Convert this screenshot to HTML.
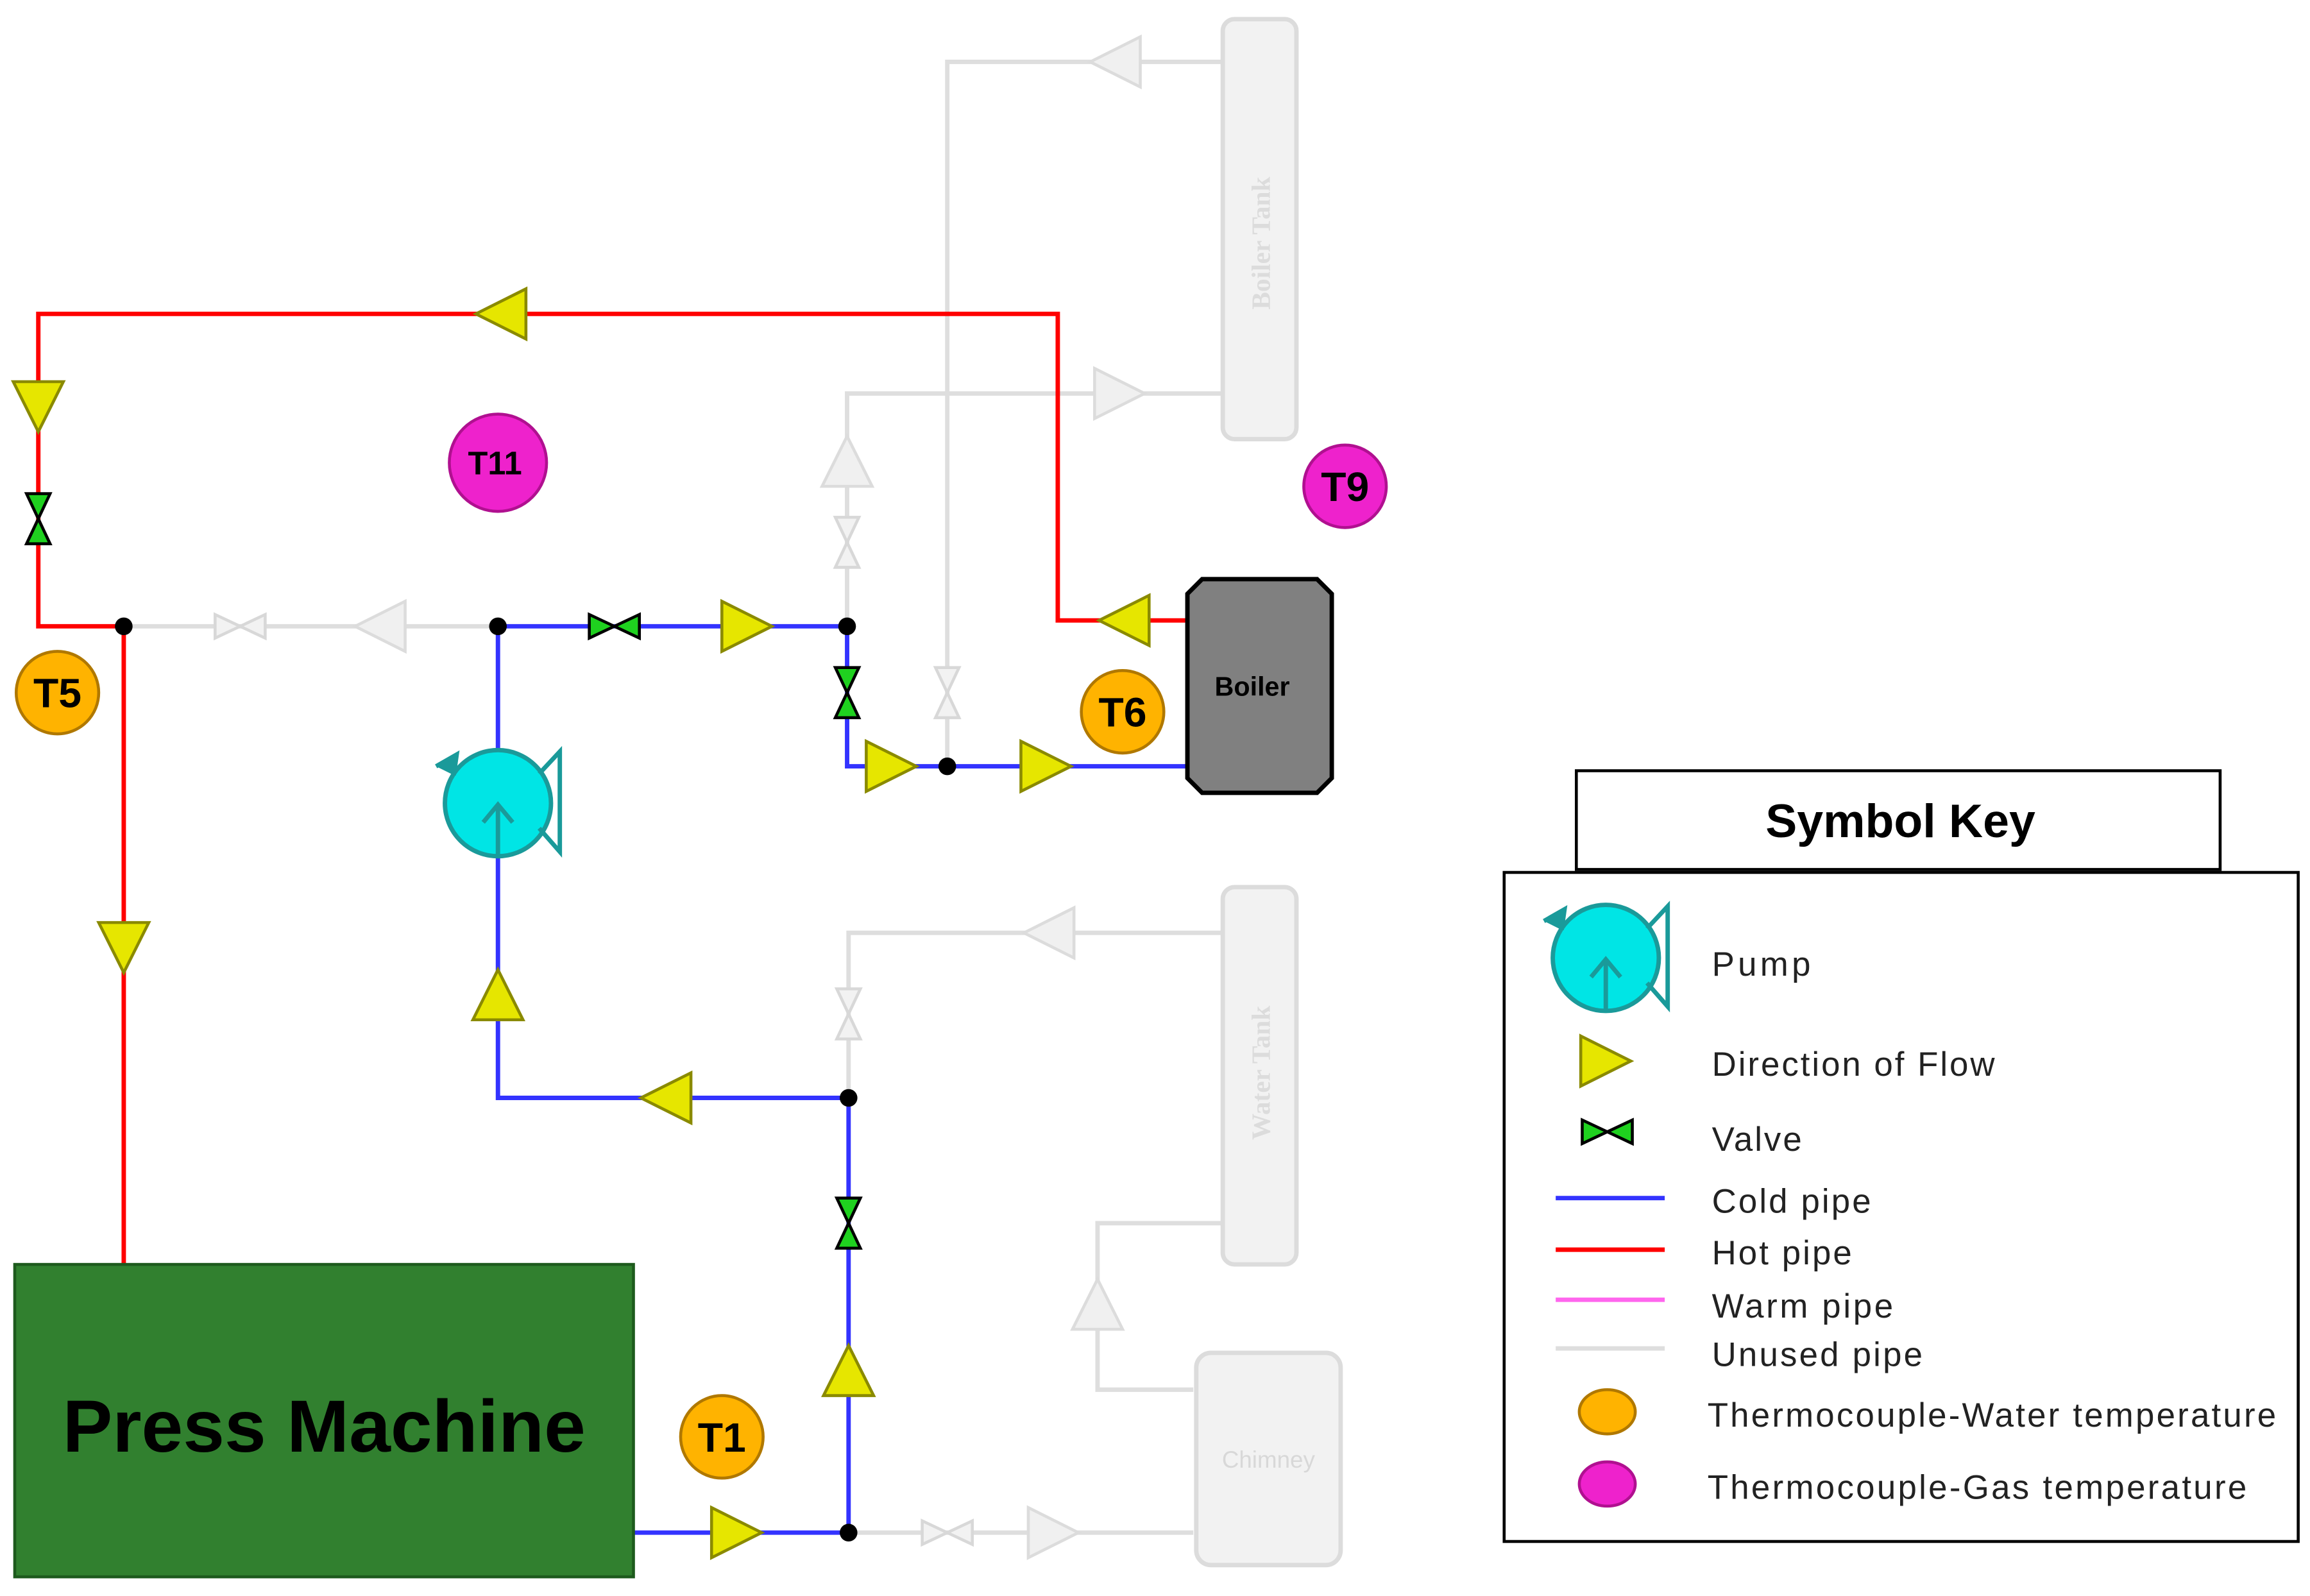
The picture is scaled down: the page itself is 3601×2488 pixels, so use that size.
<!DOCTYPE html>
<html><head><meta charset="utf-8"><style>html,body{margin:0;padding:0;background:#fff}svg{display:block}</style></head>
<body>
<svg width="3601" height="2488" viewBox="0 0 1568 1083" preserveAspectRatio="none" xmlns="http://www.w3.org/2000/svg" font-family="Liberation Sans, sans-serif">
<defs>
<g id="ar"><polygon points="-17,-17 17,0 -17,17" fill="#e6e600" stroke="#8a8a00" stroke-width="2"/></g>
<g id="arg"><polygon points="-17,-17 17,0 -17,17" fill="#f0f0f0" stroke="#dcdcdc" stroke-width="2"/></g>
<g id="vv"><polygon points="-8,-17 8,-17 -8,17 8,17" fill="#1fd11f" stroke="#000" stroke-width="2"/></g>
<g id="vg"><polygon points="-8,-17 8,-17 -8,17 8,17" fill="#f2f2f2" stroke="#d8d8d8" stroke-width="2"/></g>
</defs>
<g fill="none" stroke-width="3">
<g stroke="#dedede">
<path d="M84 425H338"/>
<path d="M576 1040H810"/>
<path d="M643 520V42H830"/>
<path d="M575 425V267H830"/>
<path d="M576 745V633H830"/>
<path d="M810 943H745V830H830"/>
</g>
<path stroke="#ff0000" d="M84 425H26V213H718V421H808"/>
<path stroke="#ff0000" d="M84 425V858"/>
<g stroke="#3333ff">
<path d="M338 425H575V520H808"/>
<path d="M338 425V745H576V1040H430"/>
</g>
</g>
<use href="#vg" transform="translate(163,425) rotate(90)"/>
<use href="#arg" transform="translate(258,425) rotate(180)"/>
<use href="#vg" transform="translate(643,1040) rotate(90)"/>
<use href="#arg" transform="translate(715,1040)"/>
<use href="#arg" transform="translate(757,42) rotate(180)"/>
<use href="#vg" transform="translate(643,470)"/>
<use href="#arg" transform="translate(760,267)"/>
<use href="#arg" transform="translate(575,313) rotate(-90)"/>
<use href="#vg" transform="translate(575,368)"/>
<use href="#arg" transform="translate(712,633) rotate(180)"/>
<use href="#vg" transform="translate(576,688)"/>
<use href="#arg" transform="translate(745,885) rotate(-90)"/>
<rect x="830" y="13" width="50" height="285" rx="8" fill="#f2f2f2" stroke="#dcdcdc" stroke-width="3"/>
<text transform="translate(862,165) rotate(-90)" text-anchor="middle" font-size="18" font-weight="bold" fill="#dcdcdc" font-family="Liberation Serif, serif">Boiler Tank</text>
<rect x="830" y="602" width="50" height="256" rx="8" fill="#f2f2f2" stroke="#dcdcdc" stroke-width="3"/>
<text transform="translate(862,728) rotate(-90)" text-anchor="middle" font-size="18" font-weight="bold" fill="#dcdcdc" font-family="Liberation Serif, serif">Water Tank</text>
<rect x="812" y="918" width="98" height="144" rx="10" fill="#f2f2f2" stroke="#dcdcdc" stroke-width="3"/>
<text x="861" y="996" text-anchor="middle" font-size="16" fill="#d8d8d8">Chimney</text>
<use href="#ar" transform="translate(340,213) rotate(180)"/>
<use href="#ar" transform="translate(26,276) rotate(90)"/>
<use href="#vv" transform="translate(26,352)"/>
<use href="#ar" transform="translate(84,643) rotate(90)"/>
<use href="#ar" transform="translate(763,421) rotate(180)"/>
<use href="#vv" transform="translate(417,425) rotate(90)"/>
<use href="#ar" transform="translate(507,425)"/>
<use href="#vv" transform="translate(575,470)"/>
<use href="#ar" transform="translate(605,520)"/>
<use href="#ar" transform="translate(710,520)"/>
<use href="#ar" transform="translate(338,675) rotate(-90)"/>
<use href="#ar" transform="translate(452,745) rotate(180)"/>
<use href="#vv" transform="translate(576,830)"/>
<use href="#ar" transform="translate(576,930) rotate(-90)"/>
<use href="#ar" transform="translate(500,1040)"/>
<g fill="#000"><circle cx="84" cy="425" r="6"/><circle cx="338" cy="425" r="6"/><circle cx="575" cy="425" r="6"/><circle cx="643" cy="520" r="6"/><circle cx="576" cy="745" r="6"/><circle cx="576" cy="1040" r="6"/></g>
<g>
<circle cx="338" cy="545" r="36" fill="#00e5e5" stroke="#1a9a9a" stroke-width="3"/>
<path d="M296 520 L310 512 L308 526" fill="#1a9a9a" stroke="#1a9a9a" stroke-width="3"/>
<path d="M366 525 L380 510 L380 578 L366 562" fill="none" stroke="#1a9a9a" stroke-width="3"/>
<path d="M338 582 V548 M328 558 L338 546 L348 558" fill="none" stroke="#1a9a9a" stroke-width="3"/>
</g>
<polygon points="816,393 894,393 904,403 904,528 894,538 816,538 806,528 806,403" fill="#808080" stroke="#000" stroke-width="3"/>
<text x="850" y="472" text-anchor="middle" font-size="18" font-weight="bold">Boiler</text>
<rect x="10" y="858" width="420" height="212" fill="#31802f" stroke="#1d5a1d" stroke-width="2"/>
<text x="220" y="985" text-anchor="middle" font-size="50" font-weight="bold" fill="#000" textLength="355" lengthAdjust="spacingAndGlyphs">Press Machine</text>
<g font-weight="bold" text-anchor="middle">
<circle cx="338" cy="314" r="33" fill="#ee22cc" stroke="#b01090" stroke-width="2"/><text x="336" y="322" font-size="22">T11</text>
<circle cx="913" cy="330" r="28" fill="#ee22cc" stroke="#b01090" stroke-width="2"/><text x="913" y="340" font-size="28">T9</text>
<circle cx="39" cy="470" r="28" fill="#ffb300" stroke="#b07800" stroke-width="2"/><text x="39" y="480" font-size="28">T5</text>
<circle cx="762" cy="483" r="28" fill="#ffb300" stroke="#b07800" stroke-width="2"/><text x="762" y="493" font-size="28">T6</text>
<circle cx="490" cy="975" r="28" fill="#ffb300" stroke="#b07800" stroke-width="2"/><text x="490" y="985" font-size="28">T1</text>
</g>
<rect x="1070" y="523" width="437" height="67" fill="#fff" stroke="#000" stroke-width="2"/>
<text x="1290" y="568" text-anchor="middle" font-size="32" font-weight="bold">Symbol Key</text>
<rect x="1021" y="592" width="539" height="454" fill="#fff" stroke="#000" stroke-width="2"/>
<g transform="translate(752,105)">
<circle cx="338" cy="545" r="36" fill="#00e5e5" stroke="#1a9a9a" stroke-width="3"/>
<path d="M296 520 L310 512 L308 526" fill="#1a9a9a" stroke="#1a9a9a" stroke-width="3"/>
<path d="M366 525 L380 510 L380 578 L366 562" fill="none" stroke="#1a9a9a" stroke-width="3"/>
<path d="M338 582 V548 M328 558 L338 546 L348 558" fill="none" stroke="#1a9a9a" stroke-width="3"/>
</g>
<use href="#ar" transform="translate(1090,720)"/>
<use href="#vv" transform="translate(1091,768) rotate(90)"/>
<line x1="1056" y1="813" x2="1130" y2="813" stroke="#3333ff" stroke-width="3"/>
<line x1="1056" y1="848" x2="1130" y2="848" stroke="#ff0000" stroke-width="3"/>
<line x1="1056" y1="882" x2="1130" y2="882" stroke="#ff66ee" stroke-width="3"/>
<line x1="1056" y1="915" x2="1130" y2="915" stroke="#dedede" stroke-width="3"/>
<ellipse cx="1091" cy="958" rx="19" ry="15" fill="#ffb300" stroke="#b07800" stroke-width="2"/>
<ellipse cx="1091" cy="1007" rx="19" ry="15" fill="#ee22cc" stroke="#b01090" stroke-width="2"/>
<g font-size="23" fill="#222" lengthAdjust="spacingAndGlyphs">
<text x="1162" y="662" textLength="67">Pump</text>
<text x="1162" y="730" textLength="192">Direction of Flow</text>
<text x="1162" y="781" textLength="61">Valve</text>
<text x="1162" y="823" textLength="108">Cold pipe</text>
<text x="1162" y="858" textLength="95">Hot pipe</text>
<text x="1162" y="894" textLength="123">Warm pipe</text>
<text x="1162" y="927" textLength="143">Unused pipe</text>
<text x="1159" y="968" textLength="386">Thermocouple-Water temperature</text>
<text x="1159" y="1017" textLength="366">Thermocouple-Gas temperature</text>
</g>
</svg>
</body></html>
